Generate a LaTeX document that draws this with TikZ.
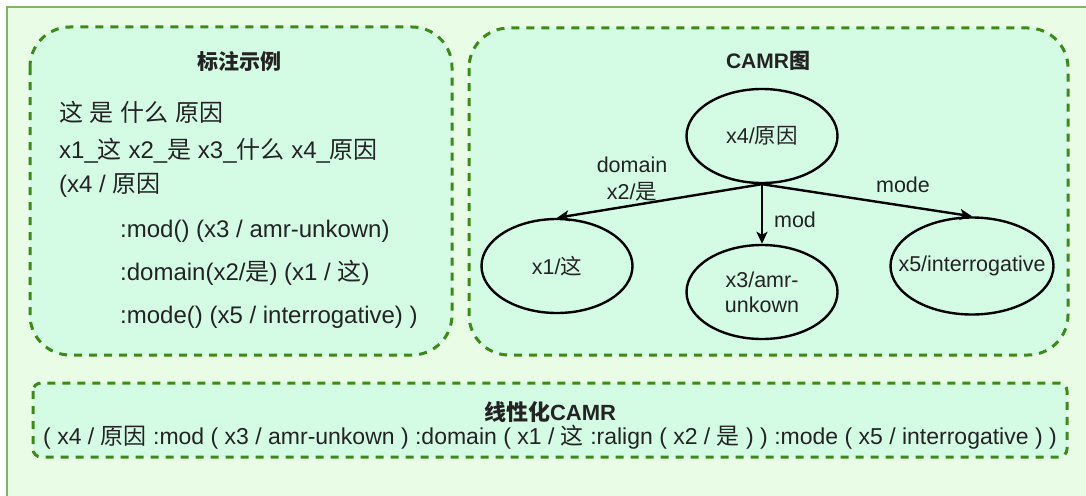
\documentclass[tikz,border=0pt]{standalone}
\usepackage{fontspec}
\setmainfont{Liberation Sans}
\newfontfamily\cjk{Noto Sans CJK SC}
\usetikzlibrary{shapes.geometric,arrows.meta}
\newcommand{\zh}[1]{{\cjk #1}}
\definecolor{sfondo}{RGB}{233,253,230}
\definecolor{bordo}{RGB}{130,179,102}
\definecolor{menta}{RGB}{212,252,229}
\definecolor{verde}{RGB}{60,138,25}
\definecolor{testo}{RGB}{35,35,35}
\begin{document}
\begin{tikzpicture}[x=1pt, y=-1pt,
	riquadro/.style={draw=verde, fill=menta, line width=3pt, dash pattern=on 8pt off 7pt},
	titolo/.style={font=\fontsize{21}{25}\selectfont\bfseries, text=testo},
	riga/.style={anchor=base west, inner sep=0pt, font=\fontsize{24}{28}\selectfont, text=testo},
	nodo/.style={ellipse, draw=black, line width=2.4pt, minimum width=151pt, minimum height=94pt, inner sep=0pt, align=center, font=\fontsize{21.5}{25}\selectfont, text=testo},
	arco/.style={line width=2.4pt, -{Stealth[length=12pt,width=11pt,inset=3pt]}},
	etichetta/.style={font=\fontsize{21.5}{27}\selectfont, text=testo, align=center}]
		\useasboundingbox (0,0) rectangle (1086,495);
		% cornice esterna
		\draw[draw=bordo, fill=sfondo, line width=2pt] (7,7) rectangle (1095,505);
		
		% riquadri tratteggiati
		\draw[riquadro, rounded corners=40pt] (30,27) rectangle (452,355);
		\draw[riquadro, rounded corners=40pt] (469,28) rectangle (1068,355);
		\draw[riquadro, rounded corners=8pt] (33,383) rectangle (1067,457);
		
		% esempio di annotazione
		\node[titolo] (T1) at (239,61) {\zh{标注示例}};
		\node[riga] (L1) at (59,121) {\zh{这} \zh{是} \zh{什么} \zh{原因}};
		\node[riga] (L2) at (59,158) {x1\_\zh{这} x2\_\zh{是} x3\_\zh{什么} x4\_\zh{原因}};
		\node[riga] (L3) at (59,192) {(x4 / \zh{原因}};
		\node[riga] (L4) at (120,237) {:mod() (x3 / amr-unkown)};
		\node[riga] (L5) at (120,280) {:domain(x2/\zh{是}) (x1 / \zh{这})};
		\node[riga] (L6) at (120,323) {:mode() (x5 / interrogative) )};
		
		% grafo
		\node[titolo] (T2) at (768,61) {CAMR\zh{图}};
		\node[nodo] (N4) at (762,136) {x4/\zh{原因}};
		\node[nodo] (N1) at (557,266) {x1/\zh{这}};
		\node[nodo] (N3) at (762,292) {x3/amr-\\unkown};
		\node[nodo, minimum width=163pt, minimum height=97pt] (N5) at (972,266) {\makebox[100pt]{x5/interrogative}};
		
		\draw[arco] (N4.south) -- (N1.north);
		\draw[arco] (N4.south) -- (N3.north);
		\draw[arco] (N4.south) -- (N5.north);
		\node[etichetta] (E1) at (632,179) {domain\\x2/\zh{是}};
		\node[etichetta] (E2) at (795,220) {mod};
		\node[etichetta] (E3) at (903,185) {mode};
		
		% forma linearizzata
		\node[titolo, font=\fontsize{22}{26}\selectfont\bfseries] (T3) at (550,412) {\zh{线性化}CAMR};
		\node[font=\fontsize{23}{28}\selectfont, text=testo] (LIN) at (550,437) {( x4 / \zh{原因} :mod ( x3 / amr-unkown ) :domain ( x1 / \zh{这} :ralign ( x2 / \zh{是} ) ) :mode ( x5 / interrogative ) )};
	\end{tikzpicture}
\end{document}
